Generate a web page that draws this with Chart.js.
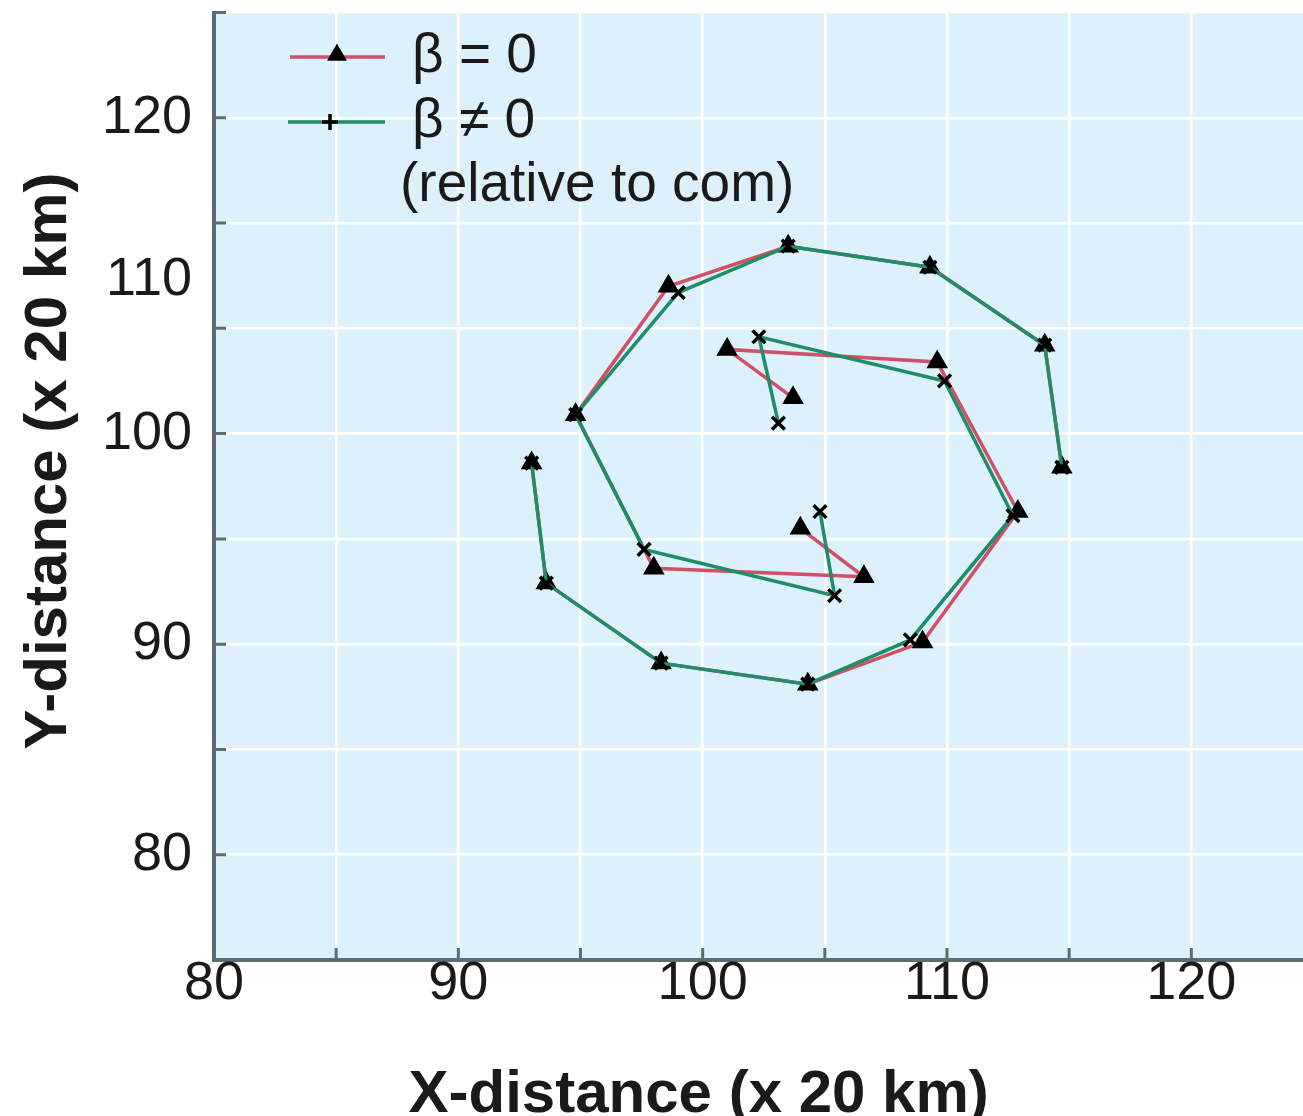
<!DOCTYPE html>
<html>
<head>
<meta charset="utf-8">
<script src="https://cdn.jsdelivr.net/npm/chart.js@4/dist/chart.umd.min.js"></script>
<style>
  html, body { margin: 0; padding: 0; background: #fff; overflow: hidden; }
  #wrap { position: relative; width: 1326px; height: 1116px; }
</style>
</head>
<body>
<div id="wrap"><canvas id="track" width="1326" height="1116"></canvas></div>
<script>
// vortex A starts on the left, vortex B on the right; both spiral inward
const beta0AX = [93.0, 93.6, 98.3, 104.3, 109.0, 112.9, 109.6, 101.0, 103.7];
const beta0AY = [98.6, 92.9, 89.1, 88.1, 90.1, 96.3, 103.4, 104.0, 101.7];
const betaAX = [93.0, 93.6, 98.3, 104.3, 108.5, 112.7, 109.9, 102.3, 103.1];
const betaAY = [98.6, 92.9, 89.1, 88.1, 90.2, 96.1, 102.5, 104.6, 100.5];

const beta0BX = [114.7, 114.0, 109.3, 103.5, 98.6, 94.8, 98.0, 106.6, 104.0];
const beta0BY = [98.4, 104.2, 107.9, 108.9, 107.0, 100.9, 93.6, 93.2, 95.5];
const betaBX = [114.7, 114.0, 109.3, 103.5, 99.0, 94.8, 97.6, 105.4, 104.8];
const betaBY = [98.4, 104.2, 107.9, 108.9, 106.7, 100.9, 94.5, 92.3, 96.3];

// axis labels
const xLabelValues = [80, 90, 100, 110, 120];
const xLabelText = ['80', '90', '100', '110', '120'];
const yLabelValues = [80, 90, 100, 107.3, 115];
const yLabelText = ['80', '90', '100', '110', '120'];

const RED = '#d24f68';
const GREEN = '#1f8d67';
const AXIS = '#5e6c71';
const FONT = "'Liberation Sans', Arial, sans-serif";

const toPoints = (xs, ys) => xs.map((x, i) => ({ x: x, y: ys[i] }));

function track(label, xs, ys, color, style, order) {
  return {
    label: label,
    data: toPoints(xs, ys),
    showLine: true,
    borderColor: color,
    borderWidth: 3.5,
    pointStyle: style,
    pointRadius: style === 'triangle' ? 9 : 9,
    pointBorderWidth: 3.5,
    pointBackgroundColor: '#000',
    pointBorderColor: '#000',
    order: order
  };
}

function steps(from, to, step) {
  let out = [];
  for (let v = from; v <= to + 1e-9; v += step) out.push(v);
  return out;
}

function labelFor(values, texts, v) {
  const i = values.findIndex(x => Math.abs(x - v) < 1e-6);
  return i >= 0 ? texts[i] : '';
}

const plotBackground = {
  id: 'plotBackground',
  beforeDraw(chart) {
    const { ctx, chartArea: a } = chart;
    ctx.save();
    ctx.fillStyle = '#dcf1fb';
    ctx.fillRect(a.left, a.top, a.right - a.left, a.bottom - a.top);
    ctx.restore();
  }
};

// tick marks point into the plot
const innerTicks = {
  id: 'innerTicks',
  beforeDatasetsDraw(chart) {
    const { ctx, chartArea: a, scales: { x, y } } = chart;
    ctx.save();
    ctx.strokeStyle = AXIS;
    ctx.lineWidth = 3;
    ctx.beginPath();
    for (const v of steps(85, 120, 5)) {
      const px = x.getPixelForValue(v);
      ctx.moveTo(px, a.bottom);
      ctx.lineTo(px, a.bottom - 12);
    }
    for (const v of steps(80, 120, 5)) {
      const py = y.getPixelForValue(v);
      ctx.moveTo(a.left, py);
      ctx.lineTo(a.left + 12, py);
    }
    ctx.stroke();
    ctx.restore();
  }
};

const legendAndTitles = {
  id: 'legendAndTitles',
  afterDraw(chart) {
    const { ctx } = chart;
    const drawPoint = Chart.helpers.drawPoint;
    ctx.save();

    // legend
    ctx.lineWidth = 3.5;
    ctx.strokeStyle = RED;
    ctx.beginPath(); ctx.moveTo(290, 57); ctx.lineTo(385, 57); ctx.stroke();
    ctx.fillStyle = '#000';
    ctx.strokeStyle = '#000';
    drawPoint(ctx, { pointStyle: 'triangle', radius: 8, borderWidth: 2 }, 337, 55);
    ctx.strokeStyle = GREEN;
    ctx.beginPath(); ctx.moveTo(288, 122); ctx.lineTo(385, 122); ctx.stroke();
    ctx.strokeStyle = '#000';
    drawPoint(ctx, { pointStyle: 'cross', radius: 8, borderWidth: 2 }, 330, 122);

    ctx.fillStyle = '#1a1a1a';
    ctx.font = '55px ' + FONT;
    ctx.textAlign = 'left';
    ctx.textBaseline = 'middle';
    ctx.fillText(chart.data.datasets[2].label, 412, 57);
    ctx.fillText(chart.data.datasets[0].label, 412, 122);
    ctx.fillText('(relative to com)', 400, 186);

    // axis titles
    ctx.font = 'bold 60px ' + FONT;
    ctx.textAlign = 'center';
    ctx.textBaseline = 'alphabetic';
    const x = chart.scales.x;
    const cx = (x.getPixelForValue(80) + x.getPixelForValue(120)) / 2;
    ctx.fillText('X-distance (x 20 km)', cx - 4, 1112);
    ctx.translate(66, 461);
    ctx.rotate(-Math.PI / 2);
    ctx.fillText('Y-distance (x 20 km)', 0, 0);
    ctx.restore();
  }
};

new Chart(document.getElementById('track'), {
  type: 'scatter',
  data: {
    datasets: [
      track('β ≠ 0', betaAX, betaAY, GREEN, 'crossRot', 0),
      track('β ≠ 0', betaBX, betaBY, GREEN, 'crossRot', 0),
      track('β = 0', beta0AX, beta0AY, RED, 'triangle', 1),
      track('β = 0', beta0BX, beta0BY, RED, 'triangle', 1)
    ]
  },
  options: {
    responsive: false,
    animation: false,
    devicePixelRatio: 1,
    layout: { padding: { top: 12, right: 4, left: 0, bottom: 0 } },
    plugins: { legend: { display: false }, tooltip: { enabled: false } },
    scales: {
      x: {
        type: 'linear',
        min: 80,
        max: 125,
        afterBuildTicks: (scale) => { scale.ticks = steps(80, 125, 5).map(v => ({ value: v })); },
        afterFit: (scale) => {
          scale.height = 156;
          scale.paddingLeft = 0;
          scale.paddingRight = 0;
        },
        grid: { color: '#ffffff', lineWidth: 2.5, drawTicks: false },
        border: { display: true, color: AXIS, width: 4 },
        ticks: {
          autoSkip: false,
          maxRotation: 0,
          padding: -8,
          color: '#1a1a1a',
          font: { family: FONT, size: 54 },
          callback: (v) => labelFor(xLabelValues, xLabelText, v)
        }
      },
      y: {
        type: 'linear',
        min: 75,
        max: 120,
        afterBuildTicks: (scale) => {
          const vals = steps(75, 120, 5).concat(yLabelValues).filter((v, i, a) => a.indexOf(v) === i);
          vals.sort((a, b) => a - b);
          scale.ticks = vals.map(v => ({ value: v }));
        },
        afterFit: (scale) => {
          scale.width = 214;
          scale.paddingTop = 0;
          scale.paddingBottom = 0;
        },
        grid: {
          color: (c) => (c.tick && Math.abs(c.tick.value % 5) > 1e-6) ? 'rgba(0,0,0,0)' : '#ffffff',
          lineWidth: 2.5,
          drawTicks: false
        },
        border: { display: true, color: AXIS, width: 4 },
        ticks: {
          autoSkip: false,
          padding: 22,
          color: '#1a1a1a',
          font: { family: FONT, size: 54 },
          callback: (v) => labelFor(yLabelValues, yLabelText, v)
        }
      }
    }
  },
  plugins: [plotBackground, innerTicks, legendAndTitles]
});
</script>
</body>
</html>
